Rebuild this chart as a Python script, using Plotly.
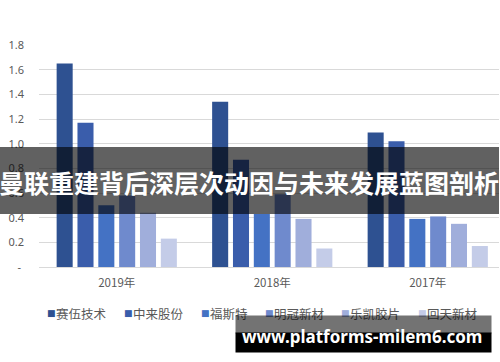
import plotly.graph_objects as go

# ---- data ----
years = ["2019年", "2018年", "2017年"]
series_names = ["赛伍技术", "中来股份", "福斯特", "明冠新材", "乐凯胶片", "回天新材"]
v_saiwu = [1.65, 1.34, 1.09]
v_zhonglai = [1.17, 0.87, 1.02]
v_fusite = [0.50, 0.43, 0.39]
v_mingguan = [0.58, 0.59, 0.41]
v_lekai = [0.44, 0.39, 0.35]
v_huitian = [0.23, 0.15, 0.17]
series_values = [v_saiwu, v_zhonglai, v_fusite, v_mingguan, v_lekai, v_huitian]
colors = ["#2E5191", "#3A5DAB", "#4472C4", "#6F8ACD", "#A0AEDB", "#C4CCE8"]
ytick_vals = [0, 0.2, 0.4, 0.6, 0.8, 1.0, 1.2, 1.4, 1.6, 1.8]
ytick_text = ["- ", "0.2", "0.4", "0.6", "0.8", "1.0", "1.2", "1.4", "1.6", "1.8"]

title_text = "曼联重建背后深层次动因与未来发展蓝图剖析"
watermark = "www.platforms-milem6.com"

# ---- layout geometry (pixels) ----
W, H = 500, 362
L, R, T, B = 39, 1, 45, 95
PW = W - L - R
PH = H - T - B
band = 155.5  # pixels per category


def px(x):
    return (x - L) / PW


def py(y):
    return (H - B - y) / PH


fig = go.Figure()
xs = list(range(len(years)))
for name, vals, col in zip(series_names, series_values, colors):
    fig.add_trace(go.Bar(x=xs, y=vals, name=name, marker=dict(color=col, line=dict(width=0))))

fig.update_layout(
    width=W, height=H,
    margin=dict(l=L, r=R, t=T, b=B, pad=0),
    paper_bgcolor="white", plot_bgcolor="white",
    barmode="group", bargap=0.196, bargroupgap=0.23,
    showlegend=False,
    font=dict(family="Noto Sans CJK SC, Noto Sans", color="#595959"),
    xaxis=dict(
        range=[-0.5, -0.5 + PW / band], tickvals=xs, ticktext=years,
        showgrid=False, zeroline=False, showline=False, ticks="",
        tickfont=dict(size=11.5, color="#595959", family="Noto Sans CJK SC"),
        ticklabelstandoff=7, fixedrange=True,
    ),
    yaxis=dict(
        range=[0, 1.8], tickvals=ytick_vals, ticktext=ytick_text,
        showgrid=True, gridcolor="#D9D9D9", gridwidth=1,
        zeroline=True, zerolinecolor="#D9D9D9", zerolinewidth=1,
        showline=False, ticks="",
        tickfont=dict(size=11, color="#595959", family="Noto Sans"),
        ticklabelstandoff=14, fixedrange=True,
    ),
)

# legend drawn as annotations (colored square + label)
legend_x = [45, 121.5, 198.5, 263, 338.5, 416]
legend_y = 313
annotations = []
for name, col, lx in zip(series_names, colors, legend_x):
    annotations.append(dict(
        x=px(lx), y=py(legend_y), xref="paper", yref="paper",
        xanchor="left", yanchor="middle", showarrow=False,
        text=f"<span style='color:{col}'>■</span>",
        font=dict(size=9, family="DejaVu Sans"),
    ))
    annotations.append(dict(
        x=px(lx + 9), y=py(legend_y), xref="paper", yref="paper",
        xanchor="left", yanchor="middle", showarrow=False,
        text=name, font=dict(size=12.5, color="#595959", family="Noto Sans CJK SC"),
    ))

# watermark boxes (as annotations so they cover the legend)
annotations.append(dict(
    x=px(235), y=py(315), xref="paper", yref="paper", xanchor="left", yanchor="top",
    showarrow=False, text=" ", width=255, height=17, borderpad=0,
    bgcolor="rgba(0,0,0,0.55)", font=dict(size=1),
))
annotations.append(dict(
    x=px(235), y=py(332), xref="paper", yref="paper", xanchor="left", yanchor="top",
    showarrow=False, text=" ", width=255, height=19, borderpad=0,
    bgcolor="#000000", font=dict(size=1),
))
annotations.append(dict(
    x=px(362), y=py(336), xref="paper", yref="paper", xanchor="center", yanchor="middle",
    showarrow=False, text=f"<b>{watermark}</b>",
    font=dict(size=17, color="white", family="Noto Sans"),
))

# title over the band
annotations.append(dict(
    x=px(249), y=py(182), xref="paper", yref="paper", xanchor="center", yanchor="middle",
    showarrow=False, text=f"<b>{title_text}</b>",
    font=dict(size=25, color="white", family="Noto Sans CJK SC"),
))

fig.update_layout(annotations=annotations)

# translucent dark band across the chart
fig.add_shape(
    type="rect", xref="paper", yref="paper",
    x0=px(0), x1=px(499), y0=py(214), y1=py(147),
    fillcolor="rgba(0,0,0,0.62)", line=dict(width=0), layer="above",
)

fig.write_html("out.html")
